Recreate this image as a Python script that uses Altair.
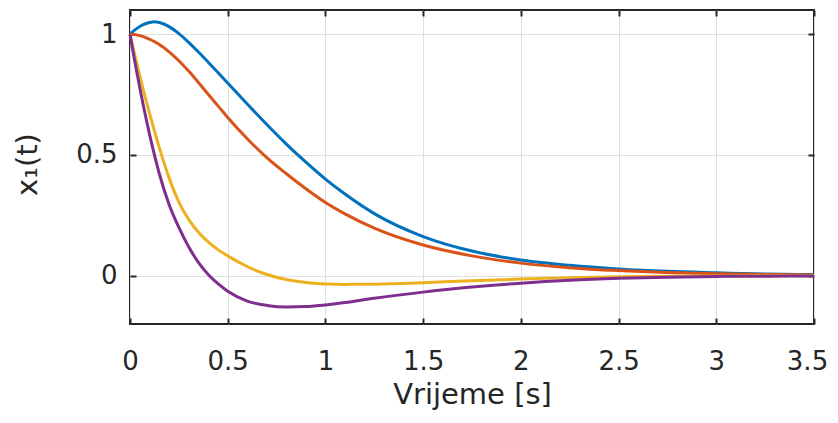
import altair as alt
import pandas as pd

# time samples [s]
t = [0, 0.025, 0.05, 0.075, 0.1, 0.125, 0.15, 0.2, 0.25, 0.3, 0.35, 0.4, 0.45,
     0.5, 0.6, 0.7, 0.8, 0.9, 1.0, 1.1, 1.25, 1.5, 1.75, 2.0, 2.25, 2.5, 2.75,
     3.0, 3.25, 3.5]

x1_blue = [1.000, 1.018, 1.032, 1.042, 1.048, 1.051, 1.048, 1.031, 1.002, 0.966,
           0.926, 0.884, 0.841, 0.798, 0.711, 0.626, 0.545, 0.470, 0.400, 0.338,
           0.257, 0.162, 0.102, 0.065, 0.043, 0.028, 0.018, 0.012, 0.007, 0.005]

x1_orange = [1.000, 0.998, 0.994, 0.988, 0.979, 0.969, 0.957, 0.927, 0.890, 0.847,
             0.800, 0.751, 0.703, 0.655, 0.567, 0.489, 0.422, 0.360, 0.303, 0.256,
             0.197, 0.127, 0.082, 0.052, 0.033, 0.021, 0.013, 0.008, 0.005, 0.003]

x1_yellow = [1.000, 0.912, 0.828, 0.748, 0.672, 0.599, 0.530, 0.405, 0.305, 0.233,
             0.180, 0.140, 0.108, 0.082, 0.038, 0.005, -0.016, -0.028, -0.034, -0.036,
             -0.035, -0.029, -0.021, -0.014, -0.008, -0.004, -0.002, -0.001, 0.000, 0.000]

x1_purple = [1.000, 0.885, 0.778, 0.678, 0.585, 0.500, 0.422, 0.295, 0.200, 0.120,
             0.055, 0.005, -0.033, -0.064, -0.105, -0.123, -0.130, -0.128, -0.121, -0.111,
             -0.093, -0.068, -0.047, -0.031, -0.019, -0.011, -0.006, -0.003, -0.002, -0.001]

series_names = ["s1", "s2", "s3", "s4"]
series_colors = ["#0072BD", "#D95319", "#EDB120", "#7E2F8E"]
series_values = [x1_blue, x1_orange, x1_yellow, x1_purple]

x_ticks = [0, 0.5, 1, 1.5, 2, 2.5, 3, 3.5]
y_ticks = [0, 0.5, 1]

rows = []
for name, vals in zip(series_names, series_values):
    for ti, v in zip(t, vals):
        rows.append({"t": ti, "x1": v, "s": name})
df = pd.DataFrame(rows)

FONT = "DejaVu Sans"
xscale = alt.Scale(domain=[0, 3.5], nice=False, zero=False)
yscale = alt.Scale(domain=[-0.2, 1.1], nice=False, zero=False)

base = alt.Chart(df)

lines = base.mark_line(strokeWidth=3, interpolate="monotone").encode(
    x=alt.X("t:Q", scale=xscale,
            axis=alt.Axis(values=x_ticks, title="Vrijeme [s]", grid=True, offset=-6,
                          tickSize=6, domain=False, labelPadding=24, labelFlush=False,
                          labelOverlap=False,
                          labelOffset={"condition": {"test": "datum.value >= 3.5", "value": -7},
                                       "value": 0},
                          titleY=85, titleBaseline="alphabetic", format="~g")),
    y=alt.Y("x1:Q", scale=yscale,
            axis=alt.Axis(values=y_ticks, title="x₁(t)", grid=True, offset=-6,
                          tickSize=6, domain=False, labelPadding=13, labelOverlap=False,
                          titleX=-100, titleY=154, titleAngle=270,
                          titleBaseline="alphabetic", format="~g")),
    color=alt.Color("s:N", scale=alt.Scale(domain=series_names, range=series_colors),
                    legend=None),
)

frame = base.mark_line(strokeOpacity=0).encode(
    x=alt.X("t:Q", scale=xscale,
            axis=alt.Axis(orient="top", values=x_ticks, labels=False, title="",
                          grid=False, offset=-6, tickSize=6, domain=False)),
    y=alt.Y("x1:Q", scale=yscale,
            axis=alt.Axis(orient="right", values=y_ticks, labels=False, title="",
                          grid=False, offset=-6, tickSize=6, domain=False)),
    detail="s:N",
)

chart = alt.layer(lines, frame).resolve_axis(
    x="independent", y="independent"
).properties(
    width=684, height=314,
    padding={"left": 122, "top": 2, "right": 16, "bottom": 87},
    autosize=alt.AutoSizeParams(type="none"),
).configure_axis(
    labelFont=FONT, labelFontSize=26, labelColor="#262626",
    titleFont=FONT, titleFontSize=29, titleColor="#262626", titleFontWeight="normal",
    tickColor="#262626", tickWidth=2,
    gridColor="#dfdfdf", gridWidth=1, gridOpacity=1,
).configure_view(
    stroke="#262626", strokeWidth=2,
)

chart.save("out.html", embed_options={"renderer": "svg", "actions": False})
